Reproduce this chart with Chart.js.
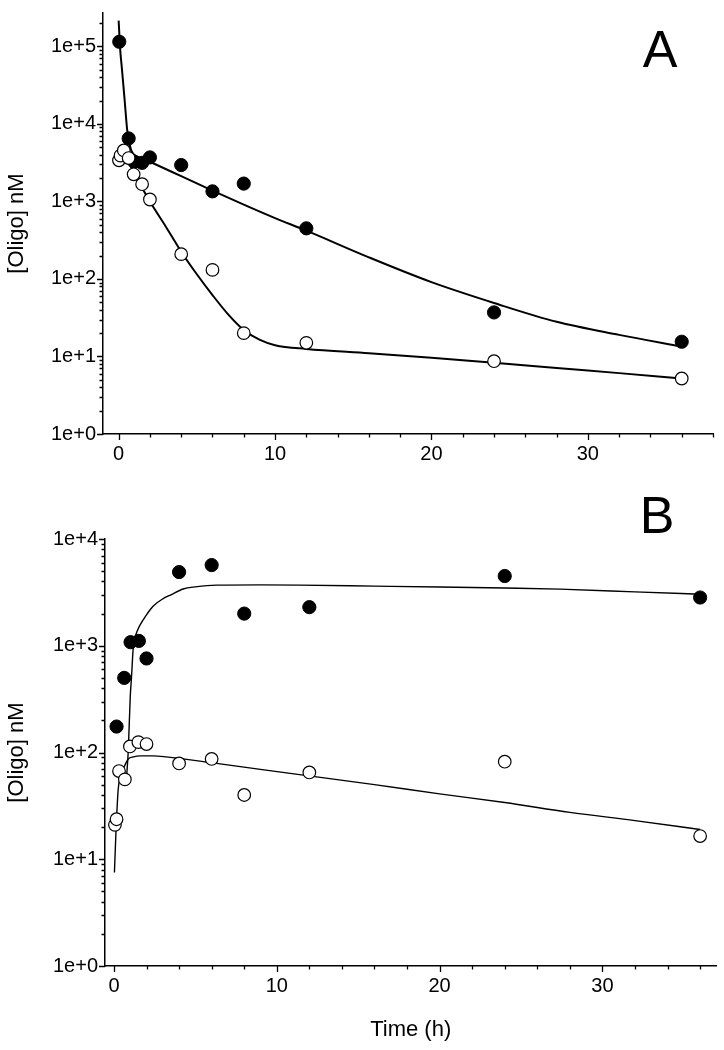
<!DOCTYPE html>
<html>
<head>
<meta charset="utf-8">
<script src="https://cdn.jsdelivr.net/npm/chart.js@4"></script>
<style>
  body { margin: 0; background: #fff; }
  #wrap { position: relative; width: 724px; height: 1050px; }
  #chartA { position: absolute; left: 0; top: 0; }
  #chartB { position: absolute; left: 0; top: 480px; }
</style>
</head>
<body>
<div id="wrap">
  <canvas id="chartA" width="724" height="480"></canvas>
  <canvas id="chartB" width="724" height="570"></canvas>
</div>
<script>
// Panel A - measured points
const timeAFilled = [0.04, 0.64, 1.0, 1.5, 2, 4, 6, 8, 12, 24, 36];
const concAFilled = [115000, 6500, 3250, 3150, 3700, 2950, 1350, 1700, 450, 37, 15.5];
const timeAOpen = [0.02, 0.12, 0.33, 0.64, 0.96, 1.5, 2, 4, 6, 8, 12, 24, 36];
const concAOpen = [3400, 3900, 4550, 3630, 2240, 1670, 1060, 209, 131, 20, 15, 8.7, 5.2];

// Panel A - fitted curves
const fitTimeAFilled = [0, 0.1, 0.2, 0.3, 0.4, 0.54, 0.65, 0.8, 1, 1.5, 2, 4, 6, 8, 10, 12, 16, 20, 24, 28, 32, 36];
const fitAFilled = [215000, 91000, 54000, 32000, 18500, 8600, 6200, 4600, 4000, 3600, 3250, 2120, 1380, 910, 610, 420, 190, 91, 49, 28, 19, 13.4];
const fitTimeAOpen = [0.05, 0.3, 0.5, 1, 2, 3, 4, 5, 6, 7, 8, 9, 10, 12, 16, 20, 24, 28, 32, 36];
const fitAOpen = [4200, 3950, 3600, 2300, 1000, 480, 225, 115, 62, 35, 22, 16.5, 14, 12.5, 11, 9.6, 8.3, 7.1, 6.1, 5.2];

// Panel B - measured points
const timeBFilled = [0.16, 0.63, 1.02, 1.53, 2, 4, 6, 8, 12, 24, 36];
const concBFilled = [175, 500, 1080, 1110, 760, 4900, 5700, 2000, 2300, 4500, 2830];
const timeBOpen = [0.06, 0.16, 0.31, 0.67, 0.98, 1.5, 2, 4, 6, 8, 12, 24, 36];
const concBOpen = [21, 23.7, 67, 56, 114, 125, 120, 79, 87, 40, 65, 82, 16.5];

// Panel B - fitted curves
const fitTimeBFilled = [0.78, 0.88, 1.0, 1.08, 1.19, 1.3, 1.45, 1.6, 2.0, 2.2, 2.4, 3.0, 3.5, 4.25, 5, 6.3, 9, 11.4, 16, 20, 24, 27.4, 32, 36];
const fitBFilled = [60, 105, 330, 515, 985, 1200, 1400, 1560, 1950, 2150, 2350, 2750, 3000, 3400, 3560, 3700, 3720, 3700, 3620, 3550, 3470, 3390, 3200, 3040];
const fitTimeBOpen = [0.03, 0.12, 0.26, 0.4, 0.57, 0.88, 1.2, 1.6, 2.4, 3.2, 6.3, 11.4, 16, 20, 24, 28, 32, 36];
const fitBOpen = [7.5, 17.5, 45, 60, 70, 87, 91, 93, 93, 91, 79, 62, 50, 41, 34, 27.5, 23, 19];

// Axis ticks
const xMajorTicks = [0, 10, 20, 30];
const yDecadesA = [1, 10, 100, 1000, 10000, 100000];
const yDecadesB = [1, 10, 100, 1000, 10000];

const FONT = "'Liberation Sans', Arial, sans-serif";

function toPoints(xs, ys) {
    return xs.map((x, i) => ({ x: x, y: ys[i] }));
}

function minorLogTicks(decades, max) {
    const out = [];
    decades.forEach(d => {
        for (let k = 1; k <= 9; k++) {
            if (d * k <= max) out.push(d * k);
        }
    });
    return out;
}

function evenTicks(max) {
    const out = [];
    for (let v = 0; v <= max; v += 2) out.push(v);
    return out;
}

const axisMarks = {
    id: 'axisMarks',
    afterDraw(chart, args, opts) {
        const ctx = chart.ctx;
        const area = chart.chartArea;
        const xs = chart.scales.x;
        const ys = chart.scales.y;
        ctx.save();
        ctx.strokeStyle = '#000';
        ctx.lineWidth = 1.3;
        ctx.beginPath();
        opts.xTicks.forEach(v => {
            const px = Math.round(xs.getPixelForValue(v)) + 0.5;
            const len = xMajorTicks.includes(v) ? 6 : 3.5;
            ctx.moveTo(px, area.bottom);
            ctx.lineTo(px, area.bottom + len);
        });
        opts.yTicks.forEach(v => {
            const py = Math.round(ys.getPixelForValue(v)) + 0.5;
            const len = opts.yDecades.includes(v) ? 6 : 3.5;
            ctx.moveTo(area.left, py);
            ctx.lineTo(area.left - len, py);
        });
        ctx.stroke();

        ctx.fillStyle = '#000';
        ctx.font = '52px ' + FONT;
        ctx.textAlign = 'center';
        ctx.textBaseline = 'alphabetic';
        ctx.fillText(opts.letter, opts.letterX, opts.letterY);
        ctx.restore();
    }
};

function makePanel(id, cfg) {
    const ctx = document.getElementById(id).getContext('2d');
    const lineWidth = cfg.lineWidth;
    return new Chart(ctx, {
        type: 'scatter',
        data: {
            datasets: [
                {
                    data: toPoints(cfg.openT, cfg.openC),
                    backgroundColor: '#fff',
                    borderColor: '#000',
                    borderWidth: 1.2,
                    pointRadius: 6.3
                },
                {
                    data: toPoints(cfg.filledT, cfg.filledC),
                    backgroundColor: '#000',
                    borderColor: '#000',
                    borderWidth: 1,
                    pointRadius: 6.6
                },
                {
                    data: toPoints(cfg.fitOpenT, cfg.fitOpenC),
                    showLine: true,
                    pointRadius: 0,
                    borderColor: '#000',
                    borderWidth: lineWidth,
                    cubicInterpolationMode: 'monotone'
                },
                {
                    data: toPoints(cfg.fitFilledT, cfg.fitFilledC),
                    showLine: true,
                    pointRadius: 0,
                    borderColor: '#000',
                    borderWidth: lineWidth,
                    cubicInterpolationMode: 'monotone'
                }
            ]
        },
        options: {
            responsive: false,
            animation: false,
            events: [],
            layout: { padding: cfg.padding },
            plugins: {
                legend: { display: false },
                tooltip: { enabled: false },
                axisMarks: {
                    xTicks: evenTicks(cfg.xMax),
                    yTicks: minorLogTicks(cfg.yDecades, cfg.yMax),
                    yDecades: cfg.yDecades,
                    letter: cfg.letter,
                    letterX: cfg.letterX,
                    letterY: cfg.letterY
                }
            },
            scales: {
                x: {
                    type: 'linear',
                    min: cfg.xMin,
                    max: cfg.xMax,
                    afterBuildTicks: s => { s.ticks = xMajorTicks.map(v => ({ value: v })); },
                    afterFit: s => { s.height = cfg.xHeight; },
                    ticks: {
                        color: '#000',
                        font: { family: FONT, size: 20 },
                        padding: 2,
                        maxRotation: 0,
                        autoSkip: false
                    },
                    grid: { display: false, drawTicks: true, tickLength: 6 },
                    border: { display: true, color: '#000', width: 1.5 },
                    title: {
                        display: cfg.xTitle !== '',
                        text: cfg.xTitle,
                        color: '#000',
                        font: { family: FONT, size: 22 },
                        padding: { top: 0, bottom: 7 }
                    }
                },
                y: {
                    type: 'logarithmic',
                    min: 1,
                    max: cfg.yMax,
                    afterBuildTicks: s => { s.ticks = cfg.yDecades.map(v => ({ value: v })); },
                    afterFit: s => { s.width = cfg.yWidth; },
                    ticks: {
                        color: '#000',
                        font: { family: FONT, size: 20 },
                        padding: 1,
                        autoSkip: false,
                        callback: v => '1e+' + Math.round(Math.log10(v))
                    },
                    grid: { display: false, drawTicks: true, tickLength: 6 },
                    border: { display: true, color: '#000', width: 1.5 },
                    title: {
                        display: true,
                        text: '[Oligo] nM',
                        color: '#000',
                        font: { family: FONT, size: 22 },
                        padding: { top: 4, bottom: 0 }
                    }
                }
            }
        },
        plugins: [axisMarks]
    });
}

makePanel('chartA', {
    openT: timeAOpen, openC: concAOpen,
    filledT: timeAFilled, filledC: concAFilled,
    fitOpenT: fitTimeAOpen, fitOpenC: fitAOpen,
    fitFilledT: fitTimeAFilled, fitFilledC: fitAFilled,
    lineWidth: 2,
    xMin: -1, xMax: 38,
    yMax: 270000, yDecades: yDecadesA,
    yWidth: 103, xHeight: 46,
    padding: { left: 0, right: 11, top: 5, bottom: 0 },
    xTitle: '',
    letter: 'A', letterX: 660, letterY: 67
});

makePanel('chartB', {
    openT: timeBOpen, openC: concBOpen,
    filledT: timeBFilled, filledC: concBFilled,
    fitOpenT: fitTimeBOpen, fitOpenC: fitBOpen,
    fitFilledT: fitTimeBFilled, fitFilledC: fitBFilled,
    lineWidth: 1.4,
    xMin: -0.55, xMax: 37,
    yMax: 10000, yDecades: yDecadesB,
    yWidth: 105, xHeight: 84,
    padding: { left: 0, right: 7, top: 59, bottom: 0 },
    xTitle: 'Time (h)',
    letter: 'B', letterX: 657, letterY: 53
});
</script>
</body>
</html>
